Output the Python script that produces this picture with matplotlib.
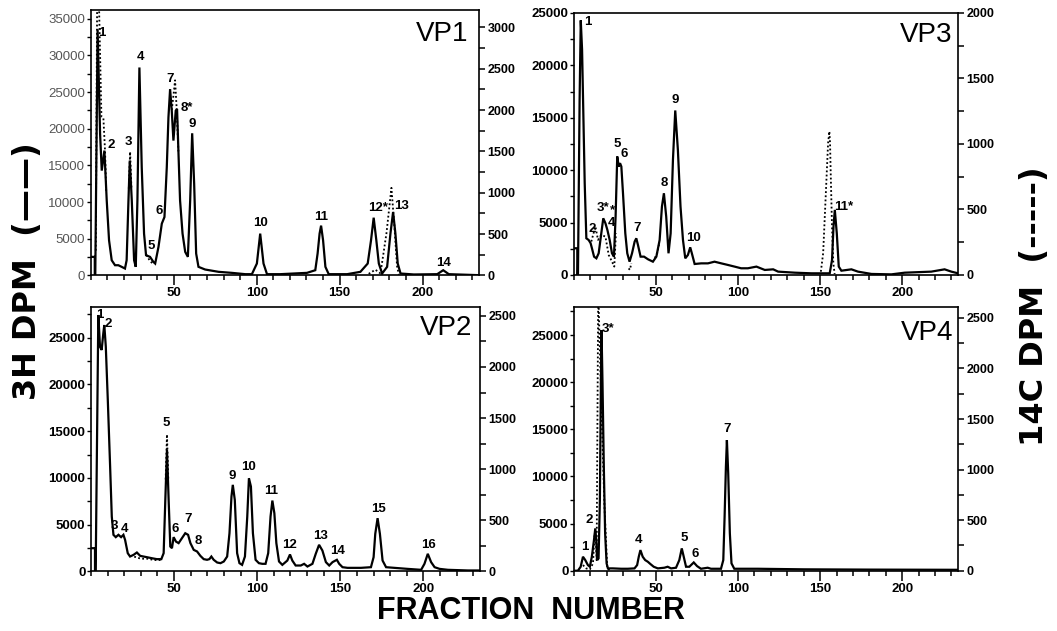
import numpy as np
import matplotlib
matplotlib.use("Agg")
import matplotlib.pyplot as plt
from matplotlib.ticker import MultipleLocator

plt.rcParams['font.family'] = ['Liberation Sans', 'DejaVu Sans']

nan = np.nan

# ---------------- VP1 ----------------
vp1_frac = [0, 2.4, 2.4, 2.7, 4.1, 5.6, 6.6, 8.2, 9.6, 11.0, 12.6, 14.6, 16.6, 18.6, 20.6,
            21.6, 22.7, 23.5, 24.7, 26.1, 27.1, 28.1, 29.3, 30.7, 32.1, 33.3, 35.7, 37.7, 38.8,
            40.8, 42.8, 44.4, 45.8, 46.8, 47.8, 48.8, 49.8, 51.2, 52.0, 52.8, 53.8, 55.3, 56.9,
            58.5, 59.9, 61.1, 62.3, 63.5, 64.9, 68.9, 77.0, 85.0, 93.1, 97.1, 100.1, 102.1, 104.1,
            106.2, 114.2, 130.3, 135.3, 136.7, 137.9, 138.8, 140.0, 141.4, 143.4, 154.5, 162.5,
            166.9, 168.9, 170.5, 172.1, 173.6, 175.6, 178.6, 180.6, 182.2, 183.6, 185.0, 186.7,
            194.7, 208.8, 212.4, 215.8, 234]
vp1_h3 = [2540, 2540, 0, 0, 33570, 19300, 14300, 17030, 10240, 4800, 2080, 1400, 1400, 1180, 950,
          2080, 10240, 15670, 10240, 2080, 1180, 10240, 28360, 14770, 5710, 2760, 2540, 1860, 1630,
          3900, 7070, 7970, 14770, 21560, 25410, 22470, 18390, 22470, 22700, 17030, 10240, 5710, 3220,
          2540, 10240, 19390, 12500, 2990, 1180, 815, 500, 360, 180, 180, 1630, 5710, 1630,
          180, 180, 360, 720, 2990, 5710, 6800, 4800, 1180, 180, 180, 500,
          1630, 4800, 7880, 4800, 1630, 270, 1180, 5710, 8650, 5710, 1630, 270,
          140, 180, 720, 180, 45]
vp1_c14_frac = [3.0, 3.9, 4.6, 6.4, 7.6, 8.6, 9.3, nan, 22.9, 23.7, 24.5, nan, 33.5, 35.5, 37.5, nan,
                48.8, 49.9, 50.8, 51.8, 52.8, nan, 167.5, 171.5, 174.6, 178.2, 181.2, 183.0, 184.6, 185.7]
vp1_c14 = [300, 3600, 3600, 1920, 1900, 1500, 1000, nan, 1050, 1495, 1050, nan, 250, 180, 140, nan,
           2000, 2190, 2360, 2000, 1500, nan, 20, 70, 25, 510, 1060, 590, 110, 10]
vp1_peaks = ['1', '2', '3', '4', '5', '6', '7', '8*', '9', '10', '11', '12*', '13', '14']
vp1_peak_x = [6.6, 12.2, 22.6, 30.1, 36.7, 41.2, 47.8, 57.9, 61.3, 102.1, 138.7, 173.1, 187.6, 212.4]
vp1_peak_y = [33040, 17800, 18250, 29850, 4020, 8840, 26770, 22810, 20670, 7120, 8020, 9170, 9480, 1660]

# ---------------- VP3 ----------------
vp3_frac = [0, 2.3, 2.3, 2.7, 3.7, 4.4, 5.2, 5.8, 6.8, 7.8, 9.2, 10.4, 11.2, 12.5, 13.9, 15.3,
            16.9, 18.1, 19.4, 20.6, 22.0, 23.4, 24.6, 25.6, 26.6, 27.5, 28.3, 29.1, 30.1, 31.5,
            32.7, 34.1, 35.6, 37.2, 38.2, 39.2, 40.8, 42.9, 45.3, 48.3, 50.4, 52.4, 53.8, 55.0,
            56.4, 57.8, 59.1, 60.5, 61.9, 63.5, 65.1, 66.6, 68.0, 69.6, 71.0, 72.0, 73.7, 77.7,
            81.8, 85.8, 89.9, 93.9, 98.0, 102.0, 106.1, 111.3, 116.4, 121.5, 124.5, 134.7, 144.8,
            155.9, 157.3, 158.2, 159.0, 160.2, 161.4, 163.0, 169.1, 173.1, 181.3, 193.4, 201.5,
            217.7, 225.8, 229.9, 234]
vp3_h3 = [2550, 2550, 0, 0, 16720, 24300, 21500, 16720, 8760, 3500, 3340, 3030, 2550, 1750, 1590, 2070,
          3980, 5410, 4940, 4300, 3340, 2070, 1750, 5570, 11310, 10350, 10670, 10350, 7800, 3980,
          2070, 1270, 2070, 3190, 3500, 2870, 1750, 1750, 1500, 1270, 1750, 3340, 6530, 7800,
          5570, 2070, 3980, 10990, 15700, 11940, 6530, 3340, 1590, 1910, 2640, 2070, 1050, 1110,
          1110, 1270, 1110, 960, 800, 640, 640, 800, 480, 540, 320, 220, 160,
          160, 1430, 4620, 6210, 3980, 800, 410, 540, 320, 100, 60, 220,
          320, 540, 320, 160]
vp3_c14_frac = [10.8, 13.3, 14.9, 16.9, 19.4, 21.4, 23.4, 24.8, 25.8, nan, 33.5, 34.3, 35.2, nan,
                49.5, 51.0, 52.3, nan, 150.5, 151.9, 152.9, 153.9, 154.9, 155.7, 156.1, 156.5,
                157.3, 158.1, 158.9]
vp3_c14 = [255, 370, 268, 306, 293, 153, 102, 64, 318, nan, 50, 40, 90, nan,
           130, 170, 250, nan, 25, 166, 446, 726, 1006, 1096, 1006, 777,
           369, 89, 8]
vp3_peaks = ['1', '2', '3*', '*', '4', '5', '6', '7', '8', '9', '10', '11*']
vp3_peak_x = [8.4, 11.2, 17.8, 23.9, 23.4, 26.6, 30.7, 38.8, 55.0, 61.9, 73.2, 164.4]
vp3_peak_y = [24110, 4360, 6370, 6150, 4950, 12520, 11560, 4460, 8760, 16720, 3500, 6530]

# ---------------- VP2 ----------------
vp2_frac = [0, 2.4, 2.4, 2.8, 4.4, 5.4, 6.4, 7.4, 8.0, 8.9, 10.1, 11.5, 12.5, 13.5, 14.9, 16.5,
            18.1, 19.5, 20.5, 22.1, 23.5, 25.6, 27.6, 29.6, 31.6, 33.6, 36.6, 39.6, 42.3, 43.7,
            44.7, 45.7, 46.7, 47.7, 48.7, 49.7, 51.1, 52.7, 54.7, 56.7, 58.4, 59.8, 61.8, 63.8,
            65.8, 67.8, 69.8, 71.2, 72.4, 73.8, 75.9, 77.9, 79.9, 81.9, 83.3, 84.5, 85.3, 86.5,
            87.9, 89.3, 90.9, 92.6, 94.0, 95.0, 96.2, 97.4, 99.0, 101.0, 103.0, 105.0, 106.6,
            108.0, 109.1, 110.3, 111.5, 113.1, 115.1, 118.1, 119.7, 121.1, 123.1, 126.2, 128.2,
            130.2, 133.2, 135.2, 137.2, 139.2, 141.3, 143.3, 145.3, 147.9, 149.3, 151.3, 154.3,
            162.4, 168.4, 170.0, 171.0, 172.4, 173.8, 175.4, 177.5, 182.5, 190.5, 198.6, 200.6,
            202.6, 204.6, 206.7, 209.7, 214.7, 226.8, 234]
vp2_h3 = [2490, 2490, 0, 0, 27410, 24030, 23670, 25450, 26340, 24030, 18330, 11210, 5870, 3920, 3670, 3920,
          3670, 3920, 3380, 1960, 1600, 1780, 2030, 1670, 1600, 1530, 1420, 1320, 1320, 1960,
          7650, 12990, 7650, 2670, 2490, 3670, 3200, 3030, 3560, 4090, 3920, 3030, 2310, 2140,
          1670, 1320, 1250, 1320, 1600, 1250, 960, 890, 1070, 1600, 4090, 8010, 9260, 7650,
          1960, 890, 710, 1600, 5870, 9970, 9080, 4090, 1250, 890, 820, 820, 1960,
          5870, 7580, 6230, 3030, 1070, 710, 1170, 1820, 1170, 640, 640, 820,
          530, 820, 1890, 2850, 2240, 1000, 640, 1000, 1250, 820, 460, 390,
          390, 460, 1530, 4020, 5700, 4020, 1170, 460, 390, 280, 180, 820,
          1890, 1000, 460, 280, 180, 110, 110]
vp2_c14_frac = [44.9, 45.7, 46.5, nan, 26, 30, 34, 38, 42]
vp2_c14 = [900, 1340, 900, nan, 145, 125, 125, 112, 112]
vp2_peaks = ['1', '2', '3', '4', '5', '6', '7', '8', '9', '10', '11', '12', '13', '14', '15', '16']
vp2_peak_x = [5.4, 10.1, 14.1, 20.1, 45.1, 50.5, 58.2, 64.6, 84.9, 94.8, 108.5, 119.7, 137.8, 148.2, 173.0, 203.0]
vp2_peak_y = [27410, 26450, 4880, 4520, 15840, 4520, 5590, 3310, 10220, 11210, 8650, 2780, 3810, 2240, 6660, 2780]

# ---------------- VP4 ----------------
vp4_frac = [0, 2.4, 4.1, 5.5, 6.9, 8.5, 9.7, 10.9, 12.2, 13.0, 13.6, 14.2, 15.0, 15.8, 16.4, 16.8,
            17.4, 18.2, 19.0, 19.9, 20.7, 23.7, 28.8, 32.8, 36.9, 38.5, 39.5, 40.5, 41.9, 43.4,
            45.0, 46.6, 48.6, 51.1, 55.1, 57.1, 59.2, 62.2, 64.2, 65.7, 66.9, 68.3, 70.3, 73.0,
            75.0, 77.4, 81.5, 83.5, 89.6, 91.0, 91.8, 92.6, 93.2, 94.0, 95.0, 96.0, 97.7, 111.9,
            140, 180, 234]
vp4_h3 = [0, 0, 424, 1485, 1130, 600, 424, 1485, 3250, 4490, 3250, 1130, 1310, 7500, 19870, 25530,
          19870, 11030, 3960, 780, 250, 250, 210, 210, 250, 600, 1485, 2190, 1485, 1130,
          955, 710, 424, 250, 320, 424, 250, 320, 1130, 2370, 1485, 424, 424, 880,
          495, 210, 320, 210, 210, 1130, 5730, 11030, 13860, 10330, 3960, 780, 210, 210,
          150, 120, 100]
vp4_c14_frac = [5.5, 7.5, 9.7, 11.6, 12.6, 13.4, 13.8, 14.8, 16.6, 18.6, 20.3, 21.7]
vp4_c14 = [56, 23, 13, 72, 370, 303, 105, 2780, 1690, 633, 23, 7]
vp4_peaks = ['1', '2', '3*', '4', '5', '6', '7']
vp4_peak_x = [6.5, 9.5, 20.7, 39.5, 67.3, 73.8, 93.2]
vp4_peak_y = [2480, 5370, 25600, 3250, 3430, 1770, 14990]


def draw_panel(rect, frac, h3, c14_frac, c14, peaks, px, py, title, title_pos,
               ylim3, ylim14, light_left=False):
    ax = fig.add_axes(rect)
    ax.plot(frac, h3, color='black', lw=1.6, solid_joinstyle='miter')
    ax.set_xlim(0, 234)
    ax.set_ylim(*ylim3)

    yt = np.arange(0, ylim3[1] + 1, 5000)
    if light_left:
        ax.set_yticks(yt, [str(int(v)) for v in yt], fontsize=9.5, color='#555555')
    else:
        ax.set_yticks(yt, [str(int(v)) for v in yt], fontsize=9.5, fontweight='bold')
    ax.yaxis.set_minor_locator(MultipleLocator(2500))
    ax.set_xticks([50, 100, 150, 200], ['50', '100', '150', '200'], fontsize=9.5, fontweight='bold')
    ax.xaxis.set_minor_locator(MultipleLocator(10))
    ax.tick_params(axis='x', which='major', direction='out', length=7, width=1.1, pad=1.5)
    ax.tick_params(axis='x', which='minor', direction='out', length=3.5, width=1.1)
    ax.tick_params(axis='y', which='both', direction='out', length=3, width=1, pad=1)
    for s in ax.spines.values():
        s.set_linewidth(1.2)

    ax2 = ax.twinx()
    ax2.plot(c14_frac, c14, color='black', lw=1.3, linestyle=(0, (1, 1.3)))
    ax2.set_ylim(*ylim14)
    rt = np.arange(0, ylim14[1] + 1, 500)
    ax2.set_yticks(rt, [str(int(v)) for v in rt], fontsize=9, fontweight='bold')
    ax2.yaxis.set_minor_locator(MultipleLocator(250))
    ax2.tick_params(axis='y', which='both', direction='out', length=4.5, width=1.1, pad=1.5)
    for k in ('left', 'top', 'bottom'):
        ax2.spines[k].set_visible(False)
    ax2.spines['right'].set_linewidth(1.2)
    ax.spines['right'].set_visible(False)

    for name, x, y in zip(peaks, px, py):
        ax.text(x, y, name, ha='center', va='center', fontsize=9.5, fontweight='bold')
    ax.text(title_pos[0], title_pos[1], title, transform=ax.transAxes, ha='right', va='top',
            fontsize=20)
    return ax


fig = plt.figure(figsize=(10.57, 6.31), dpi=100)

draw_panel([0.0859, 0.5634, 0.3673, 0.4208], vp1_frac, vp1_h3, vp1_c14_frac, vp1_c14,
           vp1_peaks, vp1_peak_x, vp1_peak_y, 'VP1', (0.972, 0.96), (0, 36200), (0, 3210),
           light_left=True)
draw_panel([0.5426, 0.5642, 0.3638, 0.4152], vp3_frac, vp3_h3, vp3_c14_frac, vp3_c14,
           vp3_peaks, vp3_peak_x, vp3_peak_y, 'VP3', (0.985, 0.965), (0, 25000), (0, 2000))
draw_panel([0.0861, 0.0943, 0.3680, 0.4197], vp2_frac, vp2_h3, vp2_c14_frac, vp2_c14,
           vp2_peaks, vp2_peak_x, vp2_peak_y, 'VP2', (0.979, 0.97), (0, 28300), (0, 2590))
draw_panel([0.5430, 0.0955, 0.3633, 0.4184], vp4_frac, vp4_h3, vp4_c14_frac, vp4_c14,
           vp4_peaks, vp4_peak_x, vp4_peak_y, 'VP4', (0.987, 0.95), (0, 28000), (0, 2610))

fig.text(0.026, 0.57, '3H DPM  (\u2014\u2014)', rotation=90, ha='center', va='center',
         fontsize=23, fontweight='bold', family='DejaVu Sans')
fig.text(0.979, 0.515, '14C DPM  (-----)', rotation=90, ha='center', va='center',
         fontsize=23, fontweight='bold', family='DejaVu Sans')
fig.text(0.502, 0.031, 'FRACTION  NUMBER', ha='center', va='center',
         fontsize=22, fontweight='bold')

fig.savefig('out.png', dpi=100)
